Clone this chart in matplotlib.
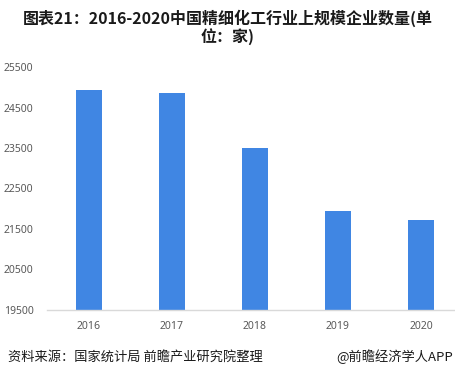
import matplotlib.pyplot as plt

plt.rcParams['font.family'] = ['Noto Sans CJK SC', 'DejaVu Sans']

years = ['2016', '2017', '2018', '2019', '2020']
counts = [24930, 24860, 23500, 21945, 21720]
yticks = [19500, 20500, 21500, 22500, 23500, 24500, 25500]

fig = plt.figure(figsize=(4.55, 3.77), dpi=100)
ax = fig.add_axes([0.104, 0.178, 0.896, 0.644])

ax.bar(range(len(years)), counts, width=0.31, color='#4086e3', zorder=2)
ax.set_xlim(-0.5, 4.41)
ax.set_ylim(19500, 25500)
ax.set_xticks(range(len(years)))
ax.set_xticklabels(years, family=['Noto Sans'])
ax.set_yticks(yticks)
ax.set_yticklabels([str(v) for v in yticks], family=['Noto Sans'])

for s in ['top', 'right', 'left']:
    ax.spines[s].set_visible(False)
ax.spines['bottom'].set_color('#d9d9d9')
ax.spines['bottom'].set_linewidth(1)
ax.tick_params(axis='both', length=0, labelsize=7.5, labelcolor='#595959')
ax.tick_params(axis='x', pad=8)
ax.tick_params(axis='y', pad=10)

fig.text(0.5, 0.975, '图表21：2016-2020中国精细化工行业上规模企业数量(单\n位：家)',
         ha='center', va='top', fontsize=11.5, fontweight='bold', color='#1a1a1a',
         linespacing=1.05)
fig.text(0.018, 0.053, '资料来源：国家统计局 前瞻产业研究院整理', ha='left', va='center',
         fontsize=9.5, color='#1a1a1a')
fig.text(0.995, 0.053, '@前瞻经济学人APP', ha='right', va='center',
         fontsize=9.5, color='#1a1a1a')

fig.savefig('out.png', dpi=100)
